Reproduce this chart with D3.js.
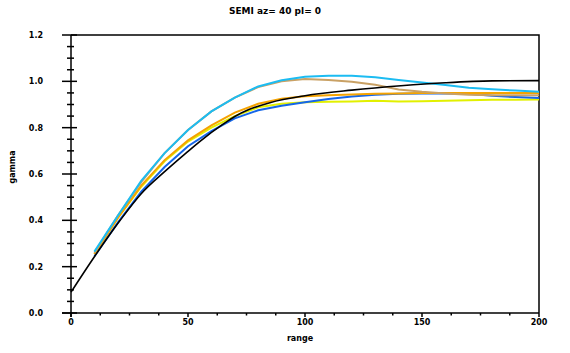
<!DOCTYPE html>
<html>
<head>
<meta charset="utf-8">
<script src="https://cdn.jsdelivr.net/npm/d3@7"></script>
<style>
  body { margin: 0; background: #fff; }
  text { font-family: "DejaVu Sans", sans-serif; font-weight: bold; fill: #000; }
</style>
</head>
<body>
<svg class="main" width="570" height="353"></svg>
<script>
var svg = d3.select(".main");

var xTicks = [0, 50, 100, 150, 200],
    yTicks = [0.0, 0.2, 0.4, 0.6, 0.8, 1.0, 1.2];

// experimental lags
var lags = [10, 20, 30, 40, 50, 60, 70, 80, 90, 100, 110, 120, 130, 140, 150, 160, 170, 180, 190, 200];

var cyanVals   = [0.265, 0.42, 0.57, 0.69, 0.79, 0.87, 0.93, 0.978, 1.005, 1.02, 1.024, 1.024, 1.018, 1.006, 0.995, 0.984, 0.972, 0.966, 0.96, 0.955];
var tanVals    = [0.26, 0.42, 0.565, 0.69, 0.79, 0.87, 0.93, 0.975, 1.0, 1.01, 1.006, 0.998, 0.985, 0.965, 0.955, 0.948, 0.942, 0.94, 0.94, 0.94];
var orangeVals = [0.255, 0.41, 0.55, 0.66, 0.745, 0.81, 0.865, 0.903, 0.925, 0.936, 0.94, 0.943, 0.946, 0.948, 0.95, 0.95, 0.95, 0.95, 0.95, 0.95];
var yellowVals = [0.255, 0.41, 0.545, 0.655, 0.74, 0.8, 0.85, 0.888, 0.903, 0.91, 0.912, 0.913, 0.916, 0.913, 0.914, 0.916, 0.918, 0.92, 0.921, 0.922];
var blueVals   = [0.245, 0.39, 0.524, 0.63, 0.72, 0.785, 0.84, 0.875, 0.895, 0.91, 0.924, 0.935, 0.942, 0.946, 0.948, 0.948, 0.946, 0.938, 0.932, 0.928];

// model curve
var modelX = [0, 10, 21, 30, 40, 49, 55, 65, 70, 76, 85, 100, 120, 141, 160, 180, 200];
var modelY = [0.09, 0.243, 0.4, 0.515, 0.61, 0.689, 0.74, 0.815, 0.848, 0.878, 0.908, 0.938, 0.962, 0.981, 0.994, 1.002, 1.003];

var series = [
  {vals: yellowVals, color: "#e2f000"},
  {vals: blueVals,   color: "#1566e8"},
  {vals: orangeVals, color: "#f5a300"},
  {vals: tanVals,    color: "#c9a165"},
  {vals: cyanVals,   color: "#1cbcf2"}
];

var x = d3.scaleLinear().domain([0, 200]).range([71, 539]),
    y = d3.scaleLinear().domain([0, 1.2]).range([313, 35]);

// frame
svg.append("path")
  .attr("d", "M" + x(0) + "," + y(1.2) + "H" + x(200) + "V" + y(0))
  .attr("fill", "none").attr("stroke", "#000").attr("stroke-width", 1.5);

// y axis
var yAxis = svg.append("g");
yAxis.append("line").attr("x1", x(0)).attr("x2", x(0))
  .attr("y1", y(1.2)).attr("y2", y(0) + 4)
  .attr("stroke", "#000").attr("stroke-width", 1.5);
d3.range(0, 1.2001, 0.05).forEach(function(v, i) {
  var major = i % 4 === 0;
  yAxis.append("line")
    .attr("x1", major ? x(0) - 9 : x(0) - 4)
    .attr("x2", major ? x(0) + 6 : x(0) + 3)
    .attr("y1", y(v)).attr("y2", y(v))
    .attr("stroke", "#000").attr("stroke-width", 1.5);
});
yAxis.selectAll("text.tick").data(yTicks).enter().append("text")
  .attr("x", 43).attr("y", function(d) { return y(d) + 3; })
  .attr("text-anchor", "end").attr("font-size", 8)
  .text(function(d) { return d.toFixed(1); });

// x axis
var xAxis = svg.append("g");
xAxis.append("line").attr("x1", x(0) - 9).attr("x2", x(200))
  .attr("y1", y(0)).attr("y2", y(0))
  .attr("stroke", "#000").attr("stroke-width", 1.5);
d3.range(0, 200.001, 12.5).forEach(function(v, i) {
  var major = i % 4 === 0;
  xAxis.append("line")
    .attr("x1", x(v)).attr("x2", x(v))
    .attr("y1", y(0)).attr("y2", y(0) + (major ? 4 : 2.5))
    .attr("stroke", "#000").attr("stroke-width", 1.5);
});
xAxis.selectAll("text.tick").data(xTicks).enter().append("text")
  .attr("x", function(d) { return x(d); }).attr("y", 325)
  .attr("text-anchor", "middle").attr("font-size", 8)
  .text(function(d) { return d; });

// labels
svg.append("text").attr("x", 300).attr("y", 341)
  .attr("text-anchor", "middle").attr("font-size", 8).text("range");
svg.append("text").attr("transform", "translate(15,167) rotate(-90)")
  .attr("text-anchor", "middle").attr("font-size", 8).text("gamma");
svg.append("text").attr("x", 275).attr("y", 14)
  .attr("text-anchor", "middle").attr("font-size", 9).text("SEMI az= 40  pl= 0");

// curves
var line = d3.line()
  .x(function(d) { return x(d[0]); })
  .y(function(d) { return y(d[1]); });

series.forEach(function(s) {
  svg.append("path")
    .datum(d3.zip(lags, s.vals))
    .attr("d", line.curve(d3.curveLinear))
    .attr("fill", "none").attr("stroke", s.color).attr("stroke-width", 2);
});

svg.append("path")
  .datum(d3.zip(modelX, modelY))
  .attr("d", line.curve(d3.curveMonotoneX))
  .attr("fill", "none").attr("stroke", "#000").attr("stroke-width", 1.6);
</script>
</body>
</html>
